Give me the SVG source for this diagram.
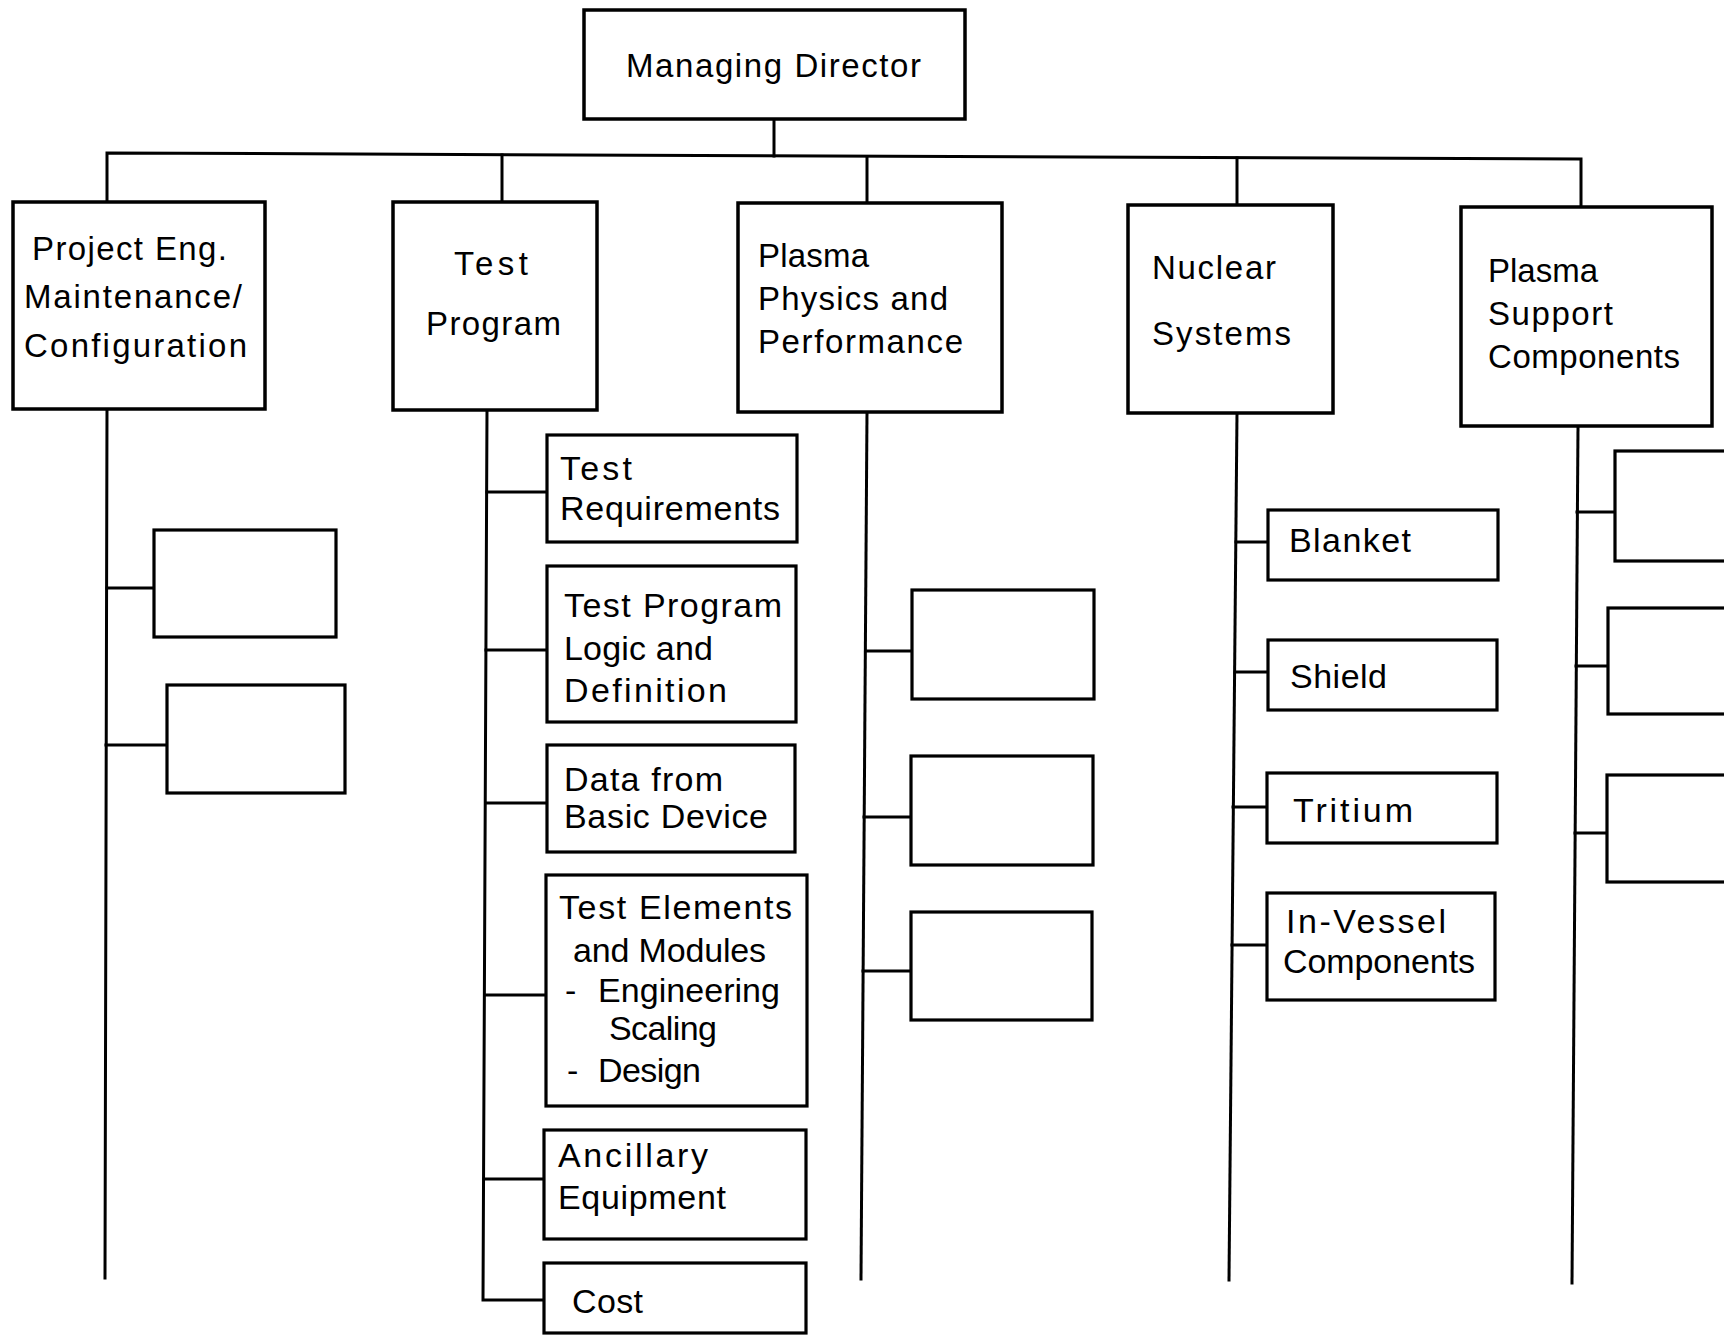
<svg xmlns="http://www.w3.org/2000/svg" width="1724" height="1335" viewBox="0 0 1724 1335">
<style>
.bg{fill:#fff}
.box{fill:#fff;stroke:#000;stroke-width:3.5}
.sub{fill:#fff;stroke:#000;stroke-width:3.2}
.ln{fill:none;stroke:#000;stroke-width:3;stroke-linecap:square;stroke-linejoin:miter}
.t1{font-family:"Liberation Sans",Arial,Helvetica,sans-serif;font-size:33px;fill:#000}
.t2{font-family:"Liberation Sans",Arial,Helvetica,sans-serif;font-size:34px;fill:#000}
</style>
<rect class="bg" x="0" y="0" width="1724" height="1335"/>
<g id="connectors">
<path class="ln" d="M774,119 L774,156"/>
<path class="ln" d="M107,201 L107,153 L1581,159 L1581,207"/>
<path class="ln" d="M502,155 L502,202"/>
<path class="ln" d="M867,157 L867,203"/>
<path class="ln" d="M1237,158 L1237,204"/>
<path class="ln" d="M107,408 L105,1278"/>
<path class="ln" d="M107,588 L154,588"/>
<path class="ln" d="M106,745 L167,745"/>
<path class="ln" d="M487,410 L483,1300 L544,1300"/>
<path class="ln" d="M487,492 L547,492"/>
<path class="ln" d="M486,650 L547,650"/>
<path class="ln" d="M486,803 L547,803"/>
<path class="ln" d="M485,995 L546,995"/>
<path class="ln" d="M484,1179 L544,1179"/>
<path class="ln" d="M867,412 L861,1279"/>
<path class="ln" d="M866,651 L912,651"/>
<path class="ln" d="M864,817 L911,817"/>
<path class="ln" d="M863,971 L911,971"/>
<path class="ln" d="M1237,413 L1229,1280"/>
<path class="ln" d="M1236,542 L1268,542"/>
<path class="ln" d="M1235,672 L1268,672"/>
<path class="ln" d="M1233,807 L1267,807"/>
<path class="ln" d="M1232,945 L1267,945"/>
<path class="ln" d="M1578,427 L1572,1283"/>
<path class="ln" d="M1577,512 L1615,512"/>
<path class="ln" d="M1576,666 L1615,666"/>
<path class="ln" d="M1575,833 L1614,833"/>
</g>
<g id="managing-director">
<rect class="box" x="584" y="10" width="381" height="109"/>
<text class="t1" x="626" y="77" textLength="295" lengthAdjust="spacing">Managing  Director</text>
</g>
<g id="project-eng">
<rect class="box" x="13" y="202" width="252" height="207"/>
<text class="t1" x="32" y="260" textLength="195" lengthAdjust="spacing">Project Eng.</text>
<text class="t1" x="24" y="308" textLength="218" lengthAdjust="spacing">Maintenance/</text>
<text class="t1" x="24" y="357" textLength="223" lengthAdjust="spacing">Configuration</text>
</g>
<g id="test-program">
<rect class="box" x="393" y="202" width="204" height="208"/>
<text class="t1" x="454" y="275" textLength="74" lengthAdjust="spacing">Test</text>
<text class="t1" x="426" y="335" textLength="135" lengthAdjust="spacing">Program</text>
</g>
<g id="plasma-physics">
<rect class="box" x="738" y="203" width="264" height="209"/>
<text class="t1" x="758" y="267" textLength="111" lengthAdjust="spacing">Plasma</text>
<text class="t1" x="758" y="310" textLength="190" lengthAdjust="spacing">Physics  and</text>
<text class="t1" x="758" y="353" textLength="205" lengthAdjust="spacing">Performance</text>
</g>
<g id="nuclear-systems">
<rect class="box" x="1128" y="205" width="205" height="208"/>
<text class="t1" x="1152" y="279" textLength="124" lengthAdjust="spacing">Nuclear</text>
<text class="t1" x="1152" y="345" textLength="139" lengthAdjust="spacing">Systems</text>
</g>
<g id="plasma-support">
<rect class="box" x="1461" y="207" width="251" height="219"/>
<text class="t1" x="1488" y="282" textLength="110" lengthAdjust="spacing">Plasma</text>
<text class="t1" x="1488" y="325" textLength="125" lengthAdjust="spacing">Support</text>
<text class="t1" x="1488" y="368" textLength="192" lengthAdjust="spacing">Components</text>
</g>
<g id="pe-sub-1"><rect class="sub" x="154" y="530" width="182" height="107"/></g>
<g id="pe-sub-2"><rect class="sub" x="167" y="685" width="178" height="108"/></g>
<g id="test-requirements">
<rect class="sub" x="547" y="435" width="250" height="107"/>
<text class="t2" x="560" y="480" textLength="72" lengthAdjust="spacing">Test</text>
<text class="t2" x="560" y="520" textLength="220" lengthAdjust="spacing">Requirements</text>
</g>
<g id="test-program-logic">
<rect class="sub" x="547" y="566" width="249" height="156"/>
<text class="t2" x="564" y="617" textLength="218" lengthAdjust="spacing">Test  Program</text>
<text class="t2" x="564" y="660" textLength="149" lengthAdjust="spacing">Logic  and</text>
<text class="t2" x="564" y="702" textLength="163" lengthAdjust="spacing">Definition</text>
</g>
<g id="data-from-basic-device">
<rect class="sub" x="547" y="745" width="248" height="107"/>
<text class="t2" x="564" y="791" textLength="159" lengthAdjust="spacing">Data  from</text>
<text class="t2" x="564" y="828" textLength="204" lengthAdjust="spacing">Basic  Device</text>
</g>
<g id="test-elements">
<rect class="sub" x="546" y="875" width="261" height="231"/>
<text class="t2" x="559" y="919" textLength="233" lengthAdjust="spacing">Test  Elements</text>
<text class="t2" x="573" y="962" textLength="193" lengthAdjust="spacing">and Modules</text>
<text class="t2" x="565" y="1002">-</text>
<text class="t2" x="598" y="1002" textLength="182" lengthAdjust="spacing">Engineering</text>
<text class="t2" x="609" y="1040" textLength="108" lengthAdjust="spacing">Scaling</text>
<text class="t2" x="567" y="1082">-</text>
<text class="t2" x="598" y="1082" textLength="103" lengthAdjust="spacing">Design</text>
</g>
<g id="ancillary-equipment">
<rect class="sub" x="544" y="1130" width="262" height="109"/>
<text class="t2" x="558" y="1167" textLength="150" lengthAdjust="spacing">Ancillary</text>
<text class="t2" x="558" y="1209" textLength="168" lengthAdjust="spacing">Equipment</text>
</g>
<g id="cost">
<rect class="sub" x="544" y="1263" width="262" height="70"/>
<text class="t2" x="572" y="1313" textLength="71" lengthAdjust="spacing">Cost</text>
</g>
<g id="pp-sub-1"><rect class="sub" x="912" y="590" width="182" height="109"/></g>
<g id="pp-sub-2"><rect class="sub" x="911" y="756" width="182" height="109"/></g>
<g id="pp-sub-3"><rect class="sub" x="911" y="912" width="181" height="108"/></g>
<g id="blanket">
<rect class="sub" x="1268" y="510" width="230" height="70"/>
<text class="t2" x="1289" y="552" textLength="122" lengthAdjust="spacing">Blanket</text>
</g>
<g id="shield">
<rect class="sub" x="1268" y="640" width="229" height="70"/>
<text class="t2" x="1290" y="688" textLength="97" lengthAdjust="spacing">Shield</text>
</g>
<g id="tritium">
<rect class="sub" x="1267" y="773" width="230" height="70"/>
<text class="t2" x="1293" y="822" textLength="120" lengthAdjust="spacing">Tritium</text>
</g>
<g id="in-vessel-components">
<rect class="sub" x="1267" y="893" width="228" height="107"/>
<text class="t2" x="1286" y="933" textLength="160" lengthAdjust="spacing">In-Vessel</text>
<text class="t2" x="1283" y="973" textLength="192" lengthAdjust="spacing">Components</text>
</g>
<g id="ps-sub-1"><rect class="sub" x="1615" y="451" width="130" height="110"/></g>
<g id="ps-sub-2"><rect class="sub" x="1608" y="608" width="137" height="106"/></g>
<g id="ps-sub-3"><rect class="sub" x="1607" y="775" width="138" height="107"/></g>
</svg>
